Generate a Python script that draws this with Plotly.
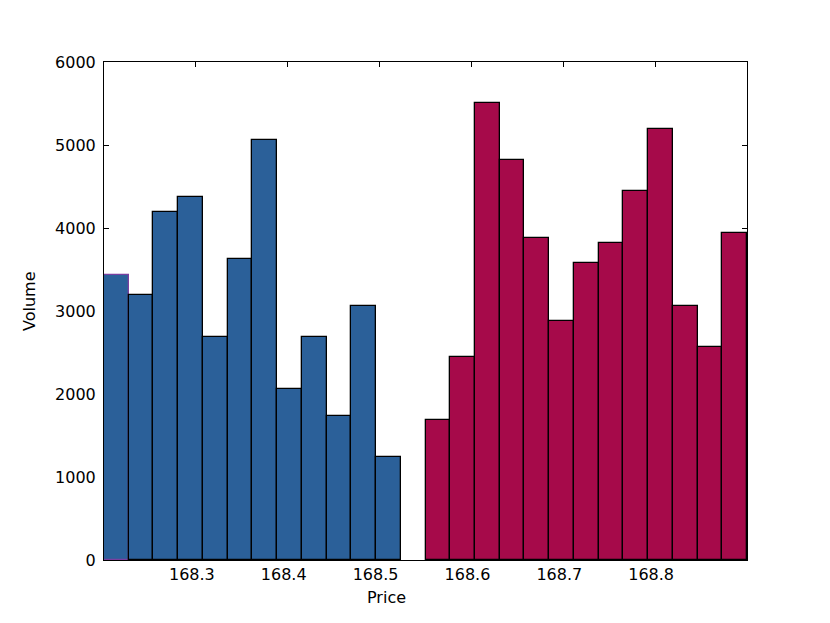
import plotly.graph_objects as go

# Price bin centers (bin width ~0.0269)
blue_prices = [168.21346, 168.24038, 168.26731, 168.29423, 168.32115, 168.34808,
               168.37500, 168.40192, 168.42885, 168.45577, 168.48269, 168.50962]
blue_volume = [3435, 3189, 4193, 4379, 2686, 3628, 5060, 2056, 2686, 1738, 3064, 1247]

red_prices = [168.56346, 168.59038, 168.61731, 168.64423, 168.67115, 168.69808, 168.72500,
              168.75192, 168.77885, 168.80577, 168.83269, 168.85962, 168.88654]
red_volume = [1682, 2442, 5509, 4821, 3879, 2882, 3574, 3819, 4443, 5195, 3066, 2568, 3944]

bin_width = 0.026923

x_ticks = [168.3, 168.4, 168.5, 168.6, 168.7, 168.8]
x_tick_text = ["168.3", "168.4", "168.5", "168.6", "168.7", "168.8"]
y_ticks = [0, 1000, 2000, 3000, 4000, 5000, 6000]

BLUE = "#2b6099"
RED = "#a60a4a"

blue_edges = ["#7a3fa0"] + ["#000000"] * (len(blue_volume) - 1)

fig = go.Figure()
fig.add_trace(go.Bar(x=blue_prices, y=blue_volume, width=bin_width,
                     marker=dict(color=BLUE, line=dict(color=blue_edges, width=1.3)),
                     showlegend=False))
fig.add_trace(go.Bar(x=red_prices, y=red_volume, width=bin_width,
                     marker=dict(color=RED, line=dict(color="#000000", width=1.3)),
                     showlegend=False))

font = dict(family="DejaVu Sans", size=16, color="black")
fig.update_layout(
    width=830, height=623,
    margin=dict(l=96, r=91, t=54, b=71),
    paper_bgcolor="white", plot_bgcolor="white",
    bargap=0, font=font,
    xaxis=dict(range=[168.2, 168.9], tickvals=x_ticks, ticktext=x_tick_text,
               ticks="inside", ticklen=5, tickcolor="black", mirror="ticks",
               showline=True, linecolor="black", linewidth=1, showgrid=False,
               zeroline=False, layer="below traces", tickfont=font,
               automargin=False, ticklabelshift=-4),
    yaxis=dict(range=[0, 6000], tickvals=y_ticks,
               ticks="inside", ticklen=5, tickcolor="black", mirror="ticks",
               showline=True, linecolor="black", linewidth=1, showgrid=False,
               zeroline=False, layer="below traces", tickfont=font,
               automargin=False, ticklabelstandoff=4),
    annotations=[
        dict(text="Price", xref="paper", yref="paper", x=0.4397, y=0,
             xanchor="center", yanchor="middle", yshift=-37.5,
             showarrow=False, font=font),
        dict(text="Volume", xref="paper", yref="paper", x=0, y=0.519,
             xanchor="center", yanchor="middle", xshift=-74.5, textangle=-90,
             showarrow=False, font=font),
    ],
)

fig.write_html("out.html")
